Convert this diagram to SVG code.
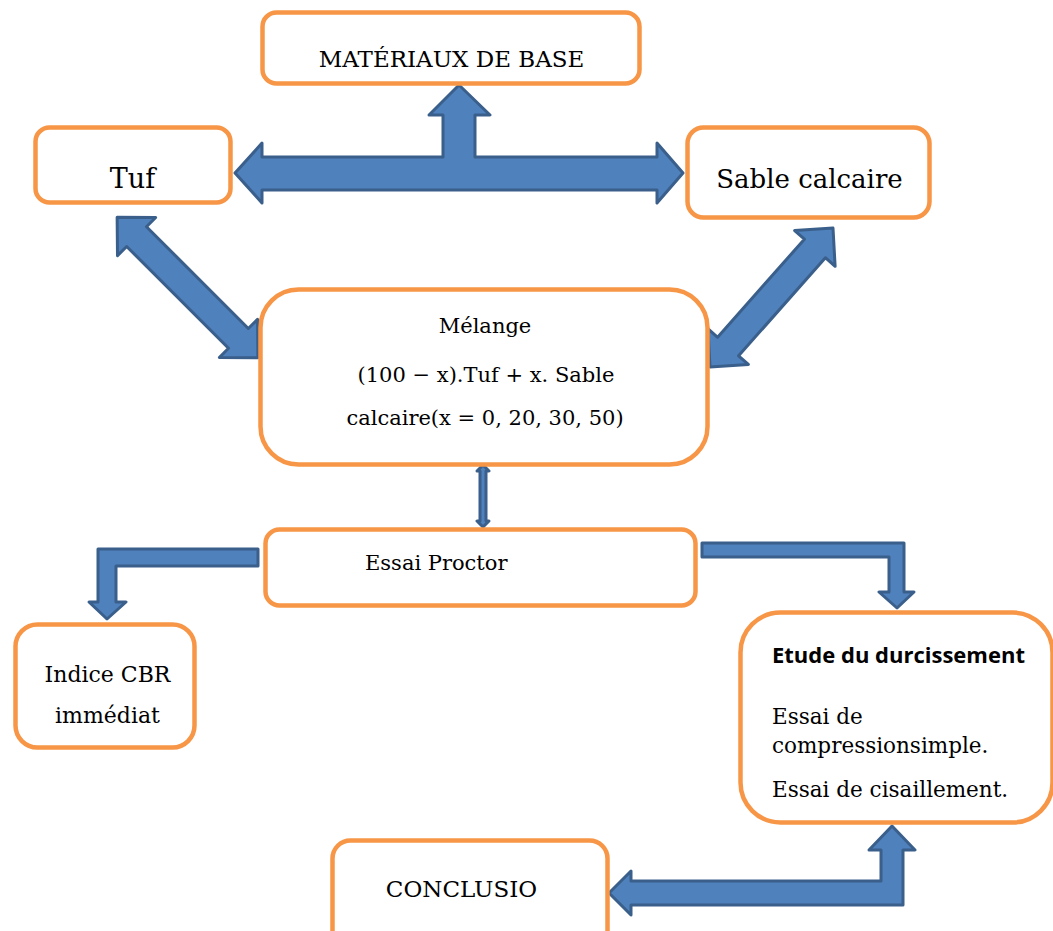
<svg xmlns="http://www.w3.org/2000/svg" width="1053" height="931" viewBox="0 0 1053 931">
<style>
.box{fill:#ffffff;stroke:#f79646;stroke-width:4.5}
.arrow{fill:#4f81bd;stroke:#3a5f8b;stroke-width:3;stroke-linejoin:round}
.t{font-family:"DejaVu Serif","Liberation Serif",serif;fill:#000000}
.b{font-family:"Open Sans","Liberation Sans",sans-serif;font-weight:bold;fill:#000000}
</style>
<rect width="1053" height="931" fill="#ffffff"/>
<g id="connectors">
  <polygon class="arrow" points="235,173 262,143 262,157 443,157 443,115 429,115 459,85 490,115 475,115 475,157 657,157 657,143 683,173 657,203 657,190 262,190 262,203"/>
  <polygon class="arrow" transform="translate(187.5,287.5) rotate(45)" points="-99.5,0 -72,-27 -72,-14 72,-14 72,-27 99.5,0 72,27 72,14 -72,14 -72,27"/>
  <polygon class="arrow" transform="translate(771.5,297.5) rotate(131.5)" points="-92.8,0 -65.5,-27 -65.5,-14 65.5,-14 65.5,-27 92.8,0 65.5,27 65.5,14 -65.5,14 -65.5,27"/>
  <polygon class="arrow" points="483,465 489,471 486,471 486,521 489,521 483,527 477,521 480,521 480,471 477,471"/>
  <polygon class="arrow" points="258,549 98,549 98,602 89,602 107,619 126,602 116,602 116,566 258,566"/>
  <polygon class="arrow" points="702,543 904,543 904,592 914,592 897,608 879,592 889,592 889,557 702,557"/>
  <polygon class="arrow" points="609,893 631,871 631,881 881,881 881,850 869,850 892,826 915,850 903,850 903,905 631,905 631,915"/>
</g>
<g id="node-materiaux">
  <rect class="box" x="262.5" y="12.5" width="377" height="71" rx="14"/>
  <text class="t" x="451.5" y="67" font-size="23" text-anchor="middle">MATÉRIAUX DE BASE</text>
</g>
<g id="node-tuf">
  <rect class="box" x="35.5" y="127.5" width="195" height="75" rx="14"/>
  <text class="t" x="132.5" y="188" font-size="27" text-anchor="middle">Tuf</text>
</g>
<g id="node-sable">
  <rect class="box" x="687.5" y="127.5" width="242" height="90" rx="16"/>
  <text class="t" x="809.5" y="188" font-size="26" text-anchor="middle">Sable calcaire</text>
</g>
<g id="node-melange">
  <rect class="box" x="260.5" y="289.5" width="447" height="175" rx="38"/>
  <text class="t" x="485" y="333" font-size="21" text-anchor="middle">Mélange</text>
  <text class="t" x="486" y="382" font-size="21" text-anchor="middle">(100 − x).Tuf + x. Sable</text>
  <text class="t" x="485" y="425" font-size="21" text-anchor="middle">calcaire(x = 0, 20, 30, 50)</text>
</g>
<g id="node-proctor">
  <rect class="box" x="265.5" y="529.5" width="430" height="76" rx="14"/>
  <text class="t" x="365" y="570" font-size="21">Essai Proctor</text>
</g>
<g id="node-cbr">
  <rect class="box" x="15.5" y="624.5" width="179" height="123" rx="22"/>
  <text class="t" x="107.5" y="682" font-size="22" text-anchor="middle">Indice CBR</text>
  <text class="t" x="107.5" y="723" font-size="22" text-anchor="middle">immédiat</text>
</g>
<g id="node-etude">
  <rect class="box" x="740.5" y="612.5" width="312" height="210" rx="40"/>
  <text class="b" x="772" y="663" font-size="22">Etude du durcissement</text>
  <text class="t" x="772" y="724" font-size="21.5">Essai de</text>
  <text class="t" x="772" y="753" font-size="21.5">compressionsimple.</text>
  <text class="t" x="772" y="797" font-size="21.5">Essai de cisaillement.</text>
</g>
<g id="node-conclusion">
  <rect class="box" x="332.5" y="840.5" width="275" height="110" rx="18"/>
  <text class="t" x="461.5" y="897" font-size="23" text-anchor="middle">CONCLUSIO</text>
</g>
</svg>
